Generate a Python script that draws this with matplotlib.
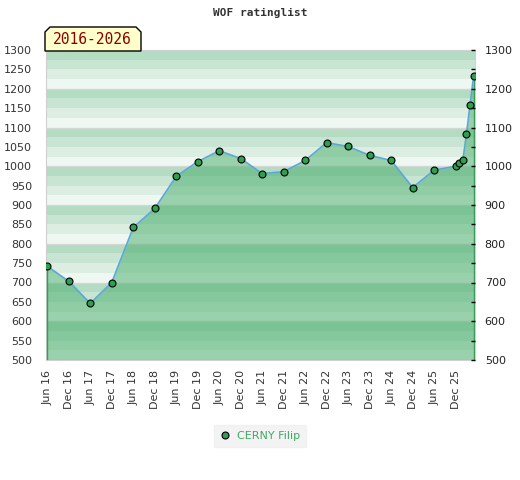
import matplotlib
matplotlib.use("Agg")
import matplotlib.pyplot as plt
from matplotlib.patches import Polygon
from matplotlib.lines import Line2D

# months since Jun 2016
months = [0, 6, 12, 18, 24, 30, 36, 42, 48, 54, 60, 66, 72, 78, 84, 90, 96, 102, 108, 114,
          115, 116, 117, 118, 119]
rating = [742, 703, 646, 700, 842, 891, 974, 1012, 1040, 1020, 981, 986, 1015, 1061, 1051,
          1028, 1015, 945, 990, 1000, 1009, 1015, 1082, 1157, 1232]
tick_months = list(range(0, 115, 6))
tick_labels = ['Jun 16', 'Dec 16', 'Jun 17', 'Dec 17', 'Jun 18', 'Dec 18', 'Jun 19', 'Dec 19',
               'Jun 20', 'Dec 20', 'Jun 21', 'Dec 21', 'Jun 22', 'Dec 22', 'Jun 23', 'Dec 23',
               'Jun 24', 'Dec 24', 'Jun 25', 'Dec 25']
player = 'CERNY Filip'
period = '2016-2026'

W, H = 520, 480
fig = plt.figure(figsize=(W / 100, H / 100), dpi=100)
ax = fig.add_axes([46 / W, 1 - 360 / H, (475 - 46) / W, 310 / H])

ymin, ymax = 500, 1300
xmin, xmax = -0.36, 119.4
band_cols = ['#eff7f2', '#dcede2', '#c8e5d3', '#b3dcc2']  # bottom -> top inside 100 block
for base in range(ymin, ymax, 100):
    for k in range(4):
        ax.axhspan(base + 25 * k, base + 25 * (k + 1), color=band_cols[k], lw=0, zorder=0)
    ax.axhline(base, color='#d6d6d6', lw=1, zorder=1)

ax.fill_between(months, rating, ymin, color='#45ac68', alpha=0.5, lw=0, zorder=2)
ax.vlines([months[0], months[-1]], ymin, [rating[0], rating[-1]], color='#3a9a5a', lw=1, zorder=3)
ax.plot(months, rating, color='#5ba8d8', lw=1.2, zorder=4)
ax.plot(months, rating, 'o', ms=5, mfc='#2e9e50', mec='black', mew=0.8, zorder=5)

ax.set_xlim(xmin, xmax)
ax.set_ylim(ymin, ymax)
ax.set_xticks(tick_months)
ax.set_xticklabels(tick_labels, rotation=90, fontsize=8, color='#333333')
ax.set_yticks(range(500, 1301, 50))
ax.tick_params(axis='y', length=0, pad=10, labelsize=8, labelcolor='#333333')
ax.tick_params(axis='x', length=0, pad=7)
for s in ax.spines.values():
    s.set_color('#d0d0d0')

ax2 = ax.twinx()
ax2.set_ylim(ymin, ymax)
ax2.set_yticks(range(500, 1301, 100))
ax2.set_yticks(range(550, 1300, 100), minor=True)
ax2.tick_params(axis='y', which='both', direction='in', length=3, width=1, color='black',
                pad=7, labelsize=8, labelcolor='#222222')
for s in ax2.spines.values():
    s.set_visible(False)

fig.text(260 / W, 1 - 13 / H, 'WOF ratinglist', ha='center', va='center',
         family='DejaVu Sans Mono', fontweight='bold', fontsize=8, color='#333333')

# period label box with clipped top corners
x0, x1, y0, y1, c = 45, 141, 51, 27, 5
pts = [(x0, y0), (x0, y1 + c), (x0 + c, y1), (x1 - c, y1), (x1, y1 + c), (x1, y0)]
pts = [(px / W, 1 - py / H) for px, py in pts]
fig.patches.append(Polygon(pts, closed=True, transform=fig.transFigure, facecolor='#ffffcc',
                           edgecolor='black', lw=1, zorder=10))
fig.text(92 / W, 1 - 40 / H, period, ha='center', va='center', family='DejaVu Sans Mono',
         fontsize=10.5, color='#8b0000', zorder=11)

handle = Line2D([], [], ls='none', marker='o', ms=5, mfc='#2e9e50', mec='black', mew=0.8)
leg = fig.legend([handle], [player], loc='center', bbox_to_anchor=(260 / W, 1 - 436 / H),
                 frameon=True, fontsize=8, handletextpad=0.6, borderpad=0.5, fancybox=False,
                 handlelength=1.0)
leg.get_frame().set_facecolor('#f0f0f0')
leg.get_frame().set_edgecolor('#f0f0f0')
for t in leg.get_texts():
    t.set_color('#3daa64')

fig.savefig('out.png', dpi=100)
